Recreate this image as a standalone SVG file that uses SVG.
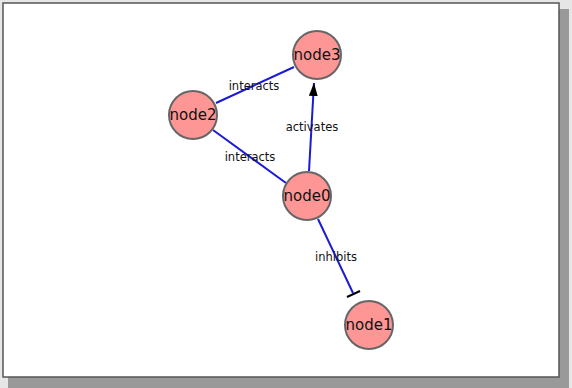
<svg xmlns="http://www.w3.org/2000/svg" width="572" height="388" viewBox="0 0 572 388">
<style>
.node circle{fill:#ff9696;stroke:#666;stroke-width:2}
.node text{font-family:"DejaVu Sans",sans-serif;font-size:15px;fill:#111;text-anchor:middle}
.edge{stroke:#1a1ad6;stroke-width:2;fill:none}
.lbl{font-family:"DejaVu Sans",sans-serif;font-size:11.5px;fill:#111;text-anchor:middle}
</style>
<defs>
<marker id="arr" viewBox="0 0 13 9" refX="13" refY="4.5" markerWidth="13" markerHeight="9" markerUnits="userSpaceOnUse" orient="auto">
<path d="M0,0 L13,4.5 L0,9 z" fill="#000"/>
</marker>
</defs>
<rect x="0" y="0" width="572" height="388" fill="#e6e6e6"/>
<rect x="8" y="9" width="561" height="379" fill="#999"/>
<rect x="3" y="3" width="556" height="374" fill="#fff" stroke="#555" stroke-width="1.5"/>
<g id="connectors">
<line class="edge" x1="216" y1="103" x2="294" y2="67"/>
<line class="edge" x1="213" y1="130" x2="286" y2="183"/>
<line class="edge" x1="309" y1="171" x2="314" y2="83" marker-end="url(#arr)"/>
<line class="edge" x1="318" y1="219" x2="353" y2="293"/>
<line x1="347" y1="297" x2="360" y2="291" stroke="#000" stroke-width="2"/>
<text class="lbl" x="254" y="90">interacts</text>
<text class="lbl" x="312" y="131">activates</text>
<text class="lbl" x="250" y="161">interacts</text>
<text class="lbl" x="336" y="261">inhibits</text>
</g>
<g id="node3" class="node"><circle cx="317" cy="55" r="24"/><text x="317" y="60">node3</text></g>
<g id="node2" class="node"><circle cx="193" cy="115" r="24"/><text x="193" y="120">node2</text></g>
<g id="node0" class="node"><circle cx="307" cy="196" r="24"/><text x="307" y="201">node0</text></g>
<g id="node1" class="node"><circle cx="369" cy="325" r="24"/><text x="369" y="330">node1</text></g>
</svg>
